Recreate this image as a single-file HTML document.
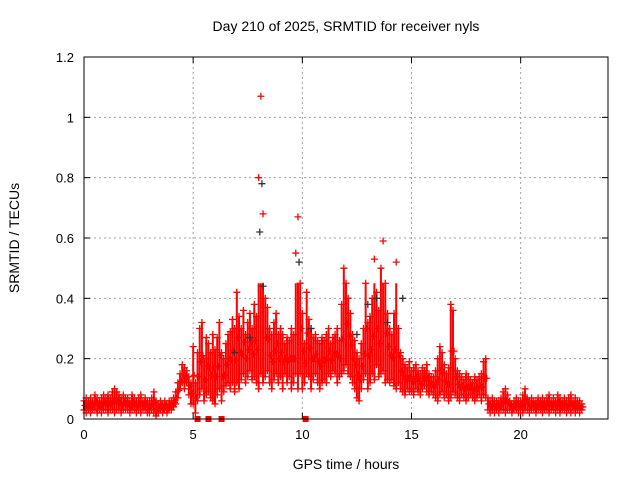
<!DOCTYPE html>
<html><head><meta charset="utf-8"><style>
body{margin:0;background:#fff}
svg{font-family:"Liberation Sans",sans-serif}
</style></head><body>
<svg id="c" width="640" height="480"></svg>
<script>
const times0 = 0, step = 0.1;
const redLo = [.03,.02,.03,.02,.03,.03,.02,.03,.02,.03, .03,.02,.03,.03,.02,.03,.03,.02,.03,.03, .03,.02,.03,.03,.02,.03,.02,.03,.03,.02, .02,.03,.02,.01,.02,.03,.02,.03,.02,.03, .03,.04,.05,.07,.10,.12,.10,.12,.08,.05, .05,.02,.06,.08,.10,.06,.08,.09,.07,.06, .05,.08,.10,.06,.09,.11,.12,.10,.12,.09, .12,.10,.13,.15,.12,.14,.16,.13,.14,.12, .10,.15,.12,.14,.16,.12,.10,.13,.15,.12, .14,.10,.15,.12,.14,.10,.12,.15,.10,.15, .10,.12,.15,.14,.10,.13,.15,.12,.10,.12, .13,.12,.15,.14,.16,.15,.12,.14,.15,.16, .18,.15,.14,.12,.10,.07,.06,.10,.13,.15, .10,.12,.15,.13,.18,.14,.15,.16,.12,.13, .12,.13,.11,.10,.12,.10,.09,.08,.10,.09, .09,.08,.10,.09,.08,.10,.11,.09,.08,.09, .08,.07,.06,.08,.09,.07,.08,.06,.07,.09, .08,.07,.06,.08,.07,.06,.07,.08,.07,.06, .07,.08,.06,.08,.07,.03,.02,.03,.02,.03, .02,.03,.03,.02,.03,.03,.02,.03,.03,.02, .03,.02,.03,.03,.02,.03,.03,.02,.03,.03, .02,.03,.03,.02,.03,.03,.02,.03,.02,.03, .03,.02,.03,.02,.03,.02,.03,.02,.03];
const redHi = [.06,.07,.06,.07,.06,.08,.07,.06,.07,.08, .07,.08,.07,.09,.10,.09,.08,.07,.08,.07, .07,.06,.08,.07,.06,.07,.08,.06,.07,.06, .06,.07,.09,.06,.05,.06,.05,.06,.05,.06, .06,.07,.09,.12,.15,.18,.17,.16,.14,.12, .24,.12,.22,.30,.32,.20,.27,.25,.22,.28, .23,.27,.32,.22,.20,.25,.28,.29,.33,.30, .42,.34,.30,.36,.28,.32,.35,.30,.38,.34, .80,1.07,.68,.40,.37,.30,.28,.32,.35,.28, .30,.28,.25,.27,.26,.30,.28,.55,.67,.45, .35,.25,.42,.33,.30,.27,.28,.26,.25,.27, .26,.28,.30,.25,.27,.28,.30,.26,.38,.50, .45,.40,.35,.28,.26,.22,.20,.25,.30,.45, .32,.34,.40,.53,.42,.36,.50,.59,.45,.35, .30,.28,.35,.52,.30,.22,.20,.18,.17,.19, .16,.17,.18,.16,.15,.17,.16,.18,.15,.14, .14,.16,.20,.24,.22,.18,.15,.17,.38,.36, .20,.16,.15,.14,.13,.15,.14,.13,.12,.14, .13,.14,.15,.19,.20,.07,.06,.07,.06,.06, .06,.07,.09,.10,.08,.06,.05,.06,.07,.06, .06,.08,.10,.07,.06,.07,.06,.06,.07,.06, .07,.06,.07,.08,.06,.07,.06,.08,.07,.06, .07,.06,.07,.08,.06,.07,.06,.06,.05];
const blackT = [6.9, 7.6, 8.05, 8.15, 8.2, 9.85, 10.4, 12.5, 13.0, 13.4, 13.9, 14.6];
const blackV = [0.22, 0.27, 0.62, 0.78, 0.44, 0.52, 0.30, 0.28, 0.38, 0.40, 0.32, 0.40];
const zeroT = [5.2, 5.7, 6.3, 10.15];
const xTicks = [0,5,10,15,20];
const yTicks = [0,0.2,0.4,0.6,0.8,1,1.2];

const L=84,R=608,T=57,B=419;
const X=t=>L+(R-L)*t/24, Y=v=>B-(B-T)*v/1.2;
const svg=document.getElementById('c'), NS='http://www.w3.org/2000/svg';
function mk(tag,at,parent){const e=document.createElementNS(NS,tag);for(const k in at)e.setAttribute(k,at[k]);(parent||svg).appendChild(e);return e;}
const grid=mk('g',{});


xTicks.forEach(t=>{ if(t>0){mk('line',{x1:X(t),x2:X(t),y1:T,y2:B,stroke:'#a0a0a0','stroke-dasharray':'2,3'},grid);}
 const tl=mk('text',{x:X(t),y:B+20,'text-anchor':'middle','font-size':13,fill:'#000'});tl.textContent=t;
 
 
 mk('line',{x1:X(t),x2:X(t),y1:B,y2:B-6,stroke:'#000'});mk('line',{x1:X(t),x2:X(t),y1:T,y2:T+6,stroke:'#000'});});
yTicks.forEach(v=>{ if(v>0&&v<1.2)mk('line',{x1:L,x2:R,y1:Y(v),y2:Y(v),stroke:'#a0a0a0','stroke-dasharray':'2,3'},grid);
 const tl=mk('text',{x:L-10,y:Y(v)+5,'text-anchor':'end','font-size':13,fill:'#000'});tl.textContent=v;
 
 
 mk('line',{x1:L,x2:L+6,y1:Y(v),y2:Y(v),stroke:'#000'});mk('line',{x1:R,x2:R-6,y1:Y(v),y2:Y(v),stroke:'#000'});});
const pts=mk('g',{});


function plus(x,y,c,g){mk('path',{d:`M${x-3.5},${y}h7M${x},${y-3.5}v7`,stroke:c,'stroke-width':1.3,fill:'none'},g);}
redLo.forEach((lo,i)=>{const t=times0+i*step,hi=redHi[i],x=X(t);
 const top = hi>0.5 ? Math.min(hi,0.45) : hi;
 mk('line',{x1:x,x2:x,y1:Y(lo),y2:Y(top),stroke:'#f00','stroke-width':2},pts);
 plus(x,Y(lo),'#f00',pts);plus(x,Y(hi),'#f00',pts);
 if(hi<0.5) plus(x+1,Y((lo+hi)/2),'#f00',pts);});
const bk=mk('g',{});


blackT.forEach((t,i)=>plus(X(t),Y(blackV[i]),'#333',bk));
zeroT.forEach(t=>mk('rect',{x:X(t)-3,y:B-3,width:6,height:6,fill:'#f00'}));
const fr=mk('rect',{x:L,y:T,width:R-L,height:B-T,fill:'none',stroke:'#000'});


</script>
<div style="position:absolute;left:0;top:0;width:640px;height:480px;pointer-events:none;font-family:'Liberation Sans',sans-serif">
<div style="position:absolute;left:84px;width:524px;top:18px;text-align:center;font-size:14px">Day 210 of 2025, SRMTID for receiver nyls</div>
<div style="position:absolute;left:84px;width:524px;top:456px;text-align:center;font-size:14px">GPS time / hours</div>
<div style="position:absolute;left:-56px;top:230px;width:140px;text-align:center;font-size:14px;transform:rotate(-90deg)">SRMTID / TECUs</div>
</div>
</body></html>
